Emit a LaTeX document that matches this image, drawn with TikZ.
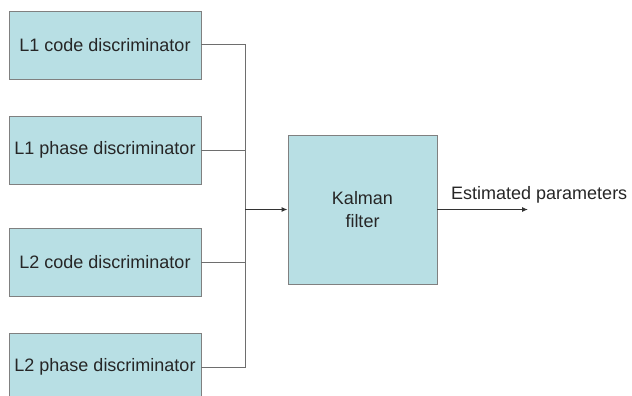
\documentclass[tikz,border=0pt]{standalone}
\usepackage{fontspec}
\setmainfont{Liberation Sans}
\usetikzlibrary{arrows.meta}
\definecolor{boxfill}{RGB}{184,223,228}
\definecolor{boxline}{RGB}{128,128,128}
\definecolor{wire}{RGB}{110,110,110}
\tikzset{
  blk/.style={draw=boxline, fill=boxfill, line width=0.9pt, minimum width=192pt, minimum height=68pt, inner sep=0pt, font=\fontsize{18}{21}\selectfont, text=black!85},
  wireline/.style={draw=wire, line width=1pt},
  arr/.style={draw=black!80, line width=1.1pt, -{Latex[length=6pt,width=5pt]}}
}
\begin{document}
\begin{tikzpicture}[x=1pt,y=-1pt]
\useasboundingbox (0,0) rectangle (632,396);
\node[blk] (b1) at (105,45) {L1 code discriminator};
\node[blk] (b2) at (105,150) {L1 phase discriminator};
\node[blk] (b3) at (105,262) {L2 code discriminator};
\node[blk] (b4) at (105,367) {L2 phase discriminator};
\node[blk, minimum width=149pt, minimum height=149pt, align=center, font=\fontsize{18}{23}\selectfont] (kf) at (362.5,209.5) {Kalman\\filter};
\coordinate (j) at (245,209.5);
\coordinate (out) at (528,209.5);
\draw[wireline] (b1.east) -| (j);
\draw[wireline] (b2.east) -| (j);
\draw[wireline] (b3.east) -| (j);
\draw[wireline] (b4.east) -| (j);
\draw[arr] (j) -- (kf.west);
\draw[arr] (kf.east) -- (out);
\node[font=\fontsize{18}{21}\selectfont, text=black!85, anchor=south west, inner sep=0pt] (lbl) at (451,203) {Estimated parameters};
\end{tikzpicture}
\end{document}
